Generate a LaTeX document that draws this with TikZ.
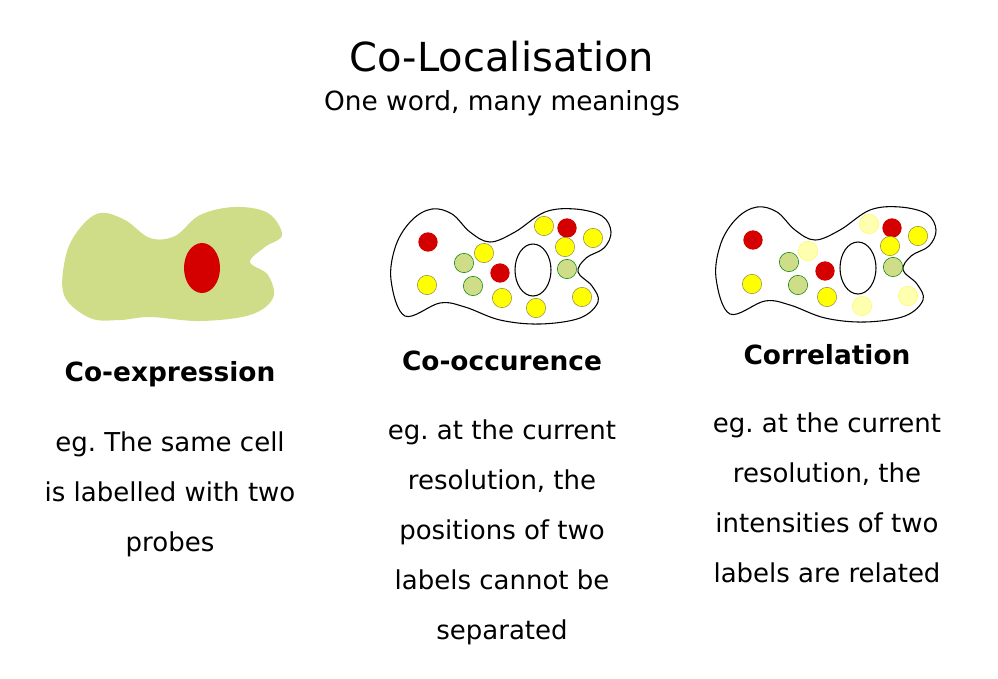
\documentclass[tikz,border=0pt]{standalone}
\usepackage{fontspec}
\setmainfont{DejaVu Sans}
\frenchspacing
\definecolor{cellgreen}{HTML}{D0DD88}
\definecolor{dotred}{HTML}{D40000}
\definecolor{dotyellow}{HTML}{FFFF00}
\definecolor{paleyellow}{HTML}{FFFFB0}
\tikzset{
  heading/.style={font=\fontsize{19.8}{22}\selectfont\bfseries},
  body/.style={font=\fontsize{19.5}{37.5}\selectfont, align=center},
  red dot/.style={circle, fill=dotred, inner sep=0pt, minimum size=14.5pt},
  yellow dot/.style={circle, draw=black!50!yellow, fill=dotyellow, inner sep=0pt, minimum size=14.5pt},
  pale dot/.style={circle, draw=yellow!60, fill=paleyellow, inner sep=0pt, minimum size=14.5pt},
  green dot/.style={circle, draw=green!50!black, fill=cellgreen, inner sep=0pt, minimum size=14.5pt}
}
\newcommand{\celloutline}{plot[smooth cycle, tension=0.6] coordinates {(405,316) (391,280) (396,245) (412,220) (432,209) (452,214) (470,232) (490,242) (515,232) (545,212) (575,209) (602,216) (611,232) (604,248) (586,258) (578,272) (592,286) (598,302) (580,318) (540,324) (500,320) (465,307) (440,303)}}
\begin{document}
\begin{tikzpicture}[x=0.75pt, y=-0.75pt]
  \useasboundingbox (0,0) rectangle (998,678);

  \node (title) at (502,57) {\fontsize{30}{33}\selectfont Co-Localisation};
  \node (subtitle) at (502,103) {\fontsize{19.8}{22}\selectfont One word, many meanings};

  % co-expression
  \fill[cellgreen] plot[smooth cycle, tension=0.6] coordinates {(90,318) (64,295) (66,255) (80,228) (100,213) (125,220) (150,238) (175,236) (200,215) (235,207) (268,213) (282,235) (265,247) (250,262) (268,275) (273,298) (250,315) (200,321) (150,317) (120,320)};
  \fill[dotred] (202,268) ellipse[x radius=18, y radius=25];

  % co-occurence
  \draw[thick] \celloutline;
  \draw[thick] (533,270) ellipse[x radius=18, y radius=26];
  \foreach \x/\y in {428/242, 567/228, 500/273}
    \node[red dot] at (\x,\y) {};
  \foreach \x/\y in {544/226, 593/238, 565/247, 484/253, 427/285, 502/298, 536/308, 582/297}
    \node[yellow dot] at (\x,\y) {};
  \foreach \x/\y in {464/263, 567/269, 473/286}
    \node[green dot] at (\x,\y) {};

  % correlation
  \begin{scope}[shift={(325,-2)}]
    \draw[thick] \celloutline;
    \draw[thick] (533,270) ellipse[x radius=18, y radius=26];
  \end{scope}
  \foreach \x/\y in {753/240, 892/228, 825/271}
    \node[red dot] at (\x,\y) {};
  \foreach \x/\y in {890/246, 918/236, 752/284, 827/297}
    \node[yellow dot] at (\x,\y) {};
  \foreach \x/\y in {808/251, 869/224, 862/306, 908/296}
    \node[pale dot] at (\x,\y) {};
  \foreach \x/\y in {789/262, 893/267, 798/285}
    \node[green dot] at (\x,\y) {};

  \node[heading] (coexp) at (170,374) {Co-expression};
  \node[heading] (cooc) at (502,361) {Co-occurence};
  \node[heading] (corr) at (827,355) {Correlation};

  \node[body] (coexptext) at (170,494) {eg. The same cell\\is labelled with two\\probes};
  \node[body] (cooctext) at (502,532) {eg. at the current\\resolution, the\\positions of two\\labels cannot be\\separated};
  \node[body] (corrtext) at (827,498) {eg. at the current\\resolution, the\\intensities of two\\labels are related};
\end{tikzpicture}
\end{document}
